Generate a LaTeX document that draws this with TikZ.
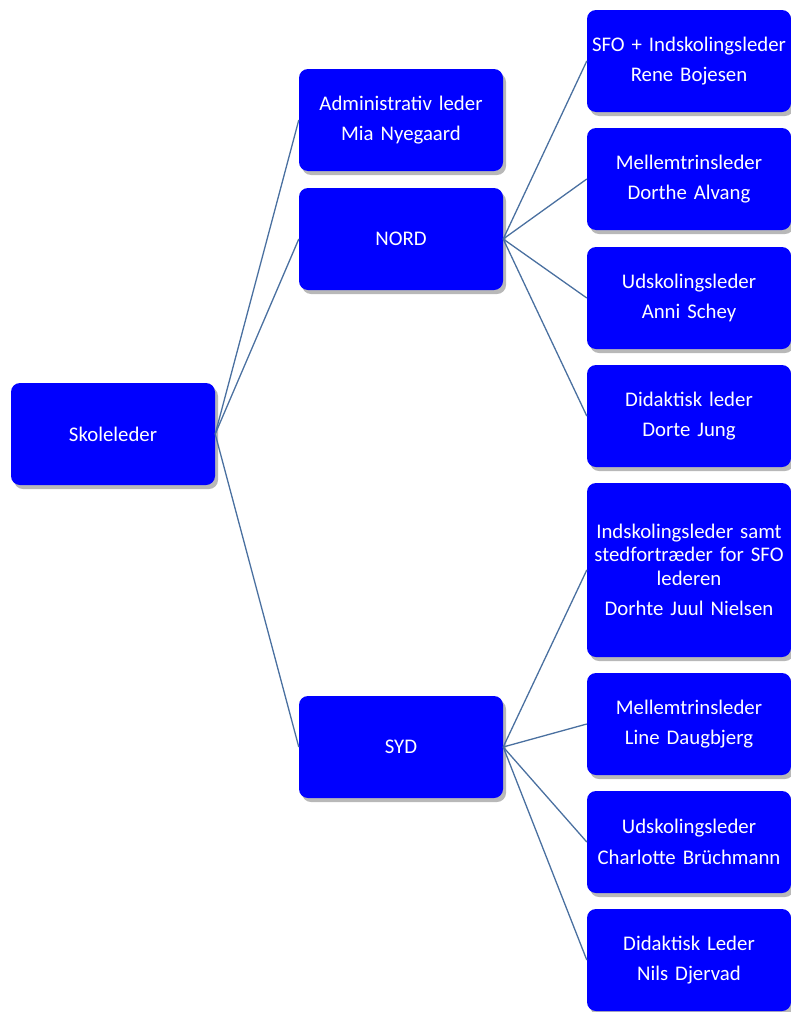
\documentclass[tikz,border=0pt]{standalone}
\usepackage{fontspec}
\setmainfont{Carlito}
\usetikzlibrary{positioning, shadows}
\definecolor{boxblue}{RGB}{0, 0, 255}
\definecolor{linkblue}{RGB}{74, 112, 160}
\begin{document}
\begin{tikzpicture}[
        x=1pt, y=-1pt,
        orgbox/.style={fill=boxblue, rounded corners=9pt,
            minimum width=204pt, minimum height=102pt, inner sep=0pt,
            text=white, align=center, text width=201pt,
            font=\fontsize{20.8}{23.5}\selectfont,
            drop shadow={shadow xshift=3pt, shadow yshift=-4pt,
                fill=black!35, opacity=0.8}},
        link/.style={draw=linkblue, line width=1.3pt}
    ]
    \useasboundingbox (0, 0) rectangle (791, 1012);

    % === Top level ===
    \node[orgbox] (skole) at (113, 434) {Skoleleder};

    % === Middle column ===
    \node[orgbox] (admin) at (401, 120) {Administrativ leder\\[7pt] Mia Nyegaard};
    \node[orgbox] (nord) at (401, 239) {NORD};
    \node[orgbox] (syd) at (401, 747) {SYD};

    % === NORD column ===
    \node[orgbox] (n1) at (689, 61) {SFO + Indskolingsleder\\[7pt] Rene Bojesen};
    \node[orgbox] (n2) at (689, 179) {Mellemtrinsleder\\[7pt] Dorthe Alvang};
    \node[orgbox] (n3) at (689, 298) {Udskolingsleder\\[7pt] Anni Schey};
    \node[orgbox] (n4) at (689, 416) {Didaktisk leder\\[7pt] Dorte Jung};

    % === SYD column ===
    \node[orgbox, minimum height=174pt] (s1) at (689, 570)
        {Indskolingsleder samt\\ stedfortræder for SFO\\ lederen\\[7pt] Dorhte Juul Nielsen};
    \node[orgbox] (s2) at (689, 724) {Mellemtrinsleder\\[7pt] Line Daugbjerg};
    \node[orgbox] (s3) at (689, 842) {Udskolingsleder\\[7pt] Charlotte Brüchmann};
    \node[orgbox] (s4) at (689, 960) {Didaktisk Leder\\[7pt] Nils Djervad};

    % === Connectors ===
    \draw[link] (skole.east) -- (admin.west);
    \draw[link] (skole.east) -- (nord.west);
    \draw[link] (skole.east) -- (syd.west);

    \draw[link] (nord.east) -- (n1.west);
    \draw[link] (nord.east) -- (n2.west);
    \draw[link] (nord.east) -- (n3.west);
    \draw[link] (nord.east) -- (n4.west);

    \draw[link] (syd.east) -- (s1.west);
    \draw[link] (syd.east) -- (s2.west);
    \draw[link] (syd.east) -- (s3.west);
    \draw[link] (syd.east) -- (s4.west);
\end{tikzpicture}
\end{document}
